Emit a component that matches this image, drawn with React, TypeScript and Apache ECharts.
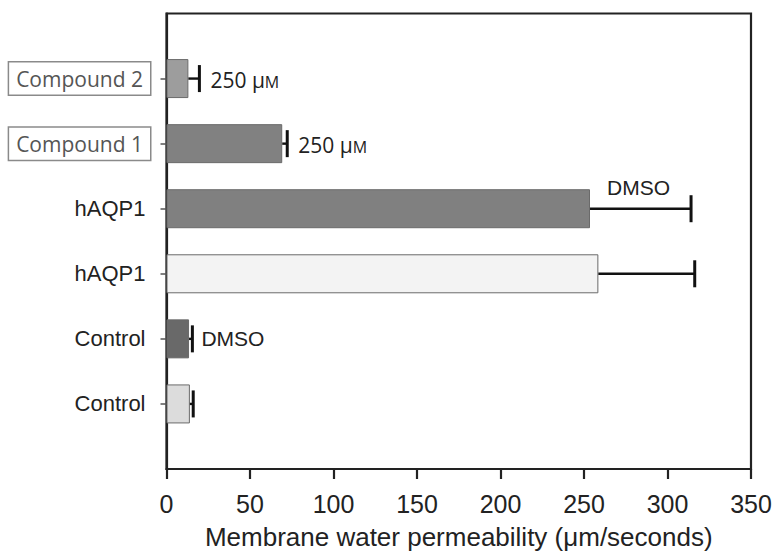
import React, { useEffect, useRef } from "react";
import * as echarts from "echarts";

// bottom to top
const categories = ["Control", "Control", "hAQP1", "hAQP1", "Compound 1", "Compound 2"];
const boxedLabel = [false, false, false, false, true, true];
const means = [14, 13.5, 258.6, 253.6, 69.3, 13.1];
const errors = [2, 2, 57.7, 60.5, 3, 6.6];
const barColors = ["#dcdcdc", "#696969", "#f3f3f3", "#808080", "#818181", "#9d9d9d"];
const annotations = ["", "DMSO", "", "DMSO", "250 μM", "250 μM"];
const annotationPlace = ["right", "right", "right", "above", "right", "right"];
const xTicks = [0, 50, 100, 150, 200, 250, 300, 350];
const xTitle = "Membrane water permeability (μm/seconds)";

export default function App() {
  const ref = useRef<HTMLDivElement>(null);
  useEffect(() => {
    document.body.style.margin = "0";
    const chart = echarts.init(ref.current!, null, { renderer: "svg" });
    const slots = ["0", "1", "2", "3", "4", "5", "6", "7"];
    const barData = means.map((v, i) => ({
      value: [v, i + 1],
      itemStyle: { color: barColors[i] },
    }));
    const errData = means.map((v, i) => [v, errors[i], i + 1, i]);
    chart.setOption({
      animation: false,
      backgroundColor: "#ffffff",
      grid: {
        left: 166.5,
        right: 27,
        top: 13.5,
        bottom: 83,
        show: true,
        borderColor: "#222",
        borderWidth: 2.2,
        containLabel: false,
      },
      xAxis: {
        type: "value",
        min: xTicks[0],
        max: xTicks[xTicks.length - 1],
        interval: 50,
        splitLine: { show: false },
        axisLine: { show: true, lineStyle: { color: "#222", width: 2.2 } },
        axisTick: { show: true, length: 10, lineStyle: { color: "#222", width: 2.2 } },
        axisLabel: {
          margin: 22,
          color: "#222",
          fontFamily: "Liberation Sans",
          fontSize: 25,
          showMinLabel: true,
          showMaxLabel: true,
        },
        name: xTitle,
        nameLocation: "middle",
        nameGap: 55,
        nameTextStyle: { color: "#222", fontFamily: "Liberation Sans", fontSize: 26 },
      },
      yAxis: {
        type: "category",
        data: slots,
        boundaryGap: false,
        axisLine: { show: true, lineStyle: { color: "#222", width: 2.2 } },
        axisTick: {
          show: true,
          length: 6,
          interval: (index: number) => index >= 1 && index <= 6,
          lineStyle: { color: "#555", width: 1.5 },
        },
        splitLine: { show: false },
        axisLabel: {
          interval: 0,
          margin: 16.5,
          formatter: (_v: string, index: number) => {
            const k = index - 1;
            if (k < 0 || k >= categories.length) return "";
            return boxedLabel[k] ? `{box|${categories[k]}}` : `{plain|${categories[k]}}`;
          },
          rich: {
            box: {
              fontFamily: "Open Sans",
              fontSize: 21,
              color: "#555",
              borderColor: "#8a8a8a",
              borderWidth: 1.5,
              backgroundColor: "#fff",
              padding: [6, 7, 5, 7],
              lineHeight: 24,
            },
            plain: {
              fontFamily: "Liberation Sans",
              fontSize: 22,
              color: "#222",
              padding: [0, 4.5, 0, 0],
            },
          },
        },
      },
      series: [
        {
          type: "bar",
          barWidth: 39,
          data: barData,
          itemStyle: { borderColor: "#6a6a6a", borderWidth: 1 },
          z: 2,
        },
        {
          type: "custom",
          z: 3,
          data: errData,
          renderItem: (_params: any, api: any) => {
            const mean = api.value(0);
            const err = api.value(1);
            const slot = api.value(2);
            const k = api.value(3);
            const start = api.coord([mean, slot]);
            const end = api.coord([mean + err, slot]);
            const children: any[] = [
              {
                type: "line",
                shape: { x1: start[0], y1: start[1], x2: end[0], y2: end[1] },
                style: { stroke: "#111", lineWidth: 2.4 },
              },
              {
                type: "line",
                shape: { x1: end[0], y1: end[1] - 13.5, x2: end[0], y2: end[1] + 13.5 },
                style: { stroke: "#111", lineWidth: 3 },
              },
            ];
            const txt = annotations[k];
            if (txt) {
              const isMicro = txt.indexOf("μ") >= 0;
              const place = annotationPlace[k];
              const x = place === "above" ? start[0] + 17 : end[0] + (isMicro ? 11 : 9);
              const y = place === "above" ? start[1] - 21 : end[1];
              if (isMicro) {
                const base = txt.slice(0, txt.length - 1);
                const last = txt.slice(txt.length - 1);
                children.push({
                  type: "text",
                  x,
                  y,
                  style: {
                    text: `{n|${base}}{s|${last}}`,
                    verticalAlign: "middle",
                    align: "left",
                    rich: {
                      n: { fontFamily: "Open Sans", fontSize: 21, fill: "#222", lineHeight: 24, verticalAlign: "bottom" },
                      s: { fontFamily: "Open Sans", fontSize: 16, fill: "#222", lineHeight: 24, verticalAlign: "bottom", padding: [0, 0, 1, 0] },
                    },
                  },
                });
              } else {
                children.push({
                  type: "text",
                  x,
                  y,
                  style: {
                    text: txt,
                    verticalAlign: "middle",
                    align: "left",
                    fontFamily: "Liberation Sans",
                    fontSize: 21,
                    fill: "#222",
                  },
                });
              }
            }
            return { type: "group", children };
          },
        },
      ],
    });
    return () => chart.dispose();
  }, []);
  return <div ref={ref} style={{ width: 778, height: 555 }} />;
}
